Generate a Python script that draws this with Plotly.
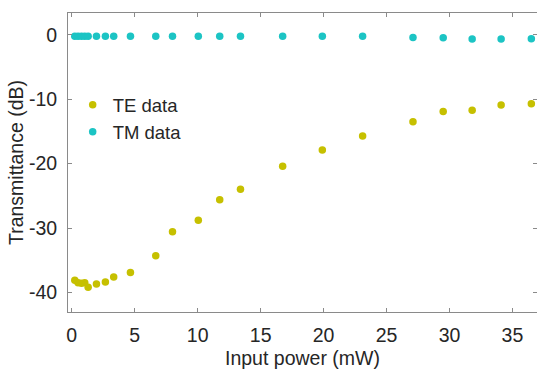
import plotly.graph_objects as go

power_mw = [0.24, 0.5, 0.77, 1.03, 1.3, 1.96, 2.67, 3.33, 4.66, 6.67, 8.0,
            10.05, 11.75, 13.4, 16.75, 19.9, 23.1, 27.1, 29.5, 31.8, 34.1, 36.5]
te_db = [-38.1, -38.5, -38.6, -38.5, -39.2, -38.7, -38.4, -37.6, -36.9, -34.3, -30.6,
         -28.8, -25.6, -24.0, -20.4, -17.9, -15.7, -13.5, -11.9, -11.7, -10.9, -10.7]
tm_db = [-0.2, -0.2, -0.2, -0.2, -0.2, -0.2, -0.2, -0.2, -0.2, -0.2, -0.2,
         -0.2, -0.2, -0.2, -0.2, -0.2, -0.2, -0.4, -0.45, -0.65, -0.65, -0.6]
x_ticks = [0, 5, 10, 15, 20, 25, 30, 35]
x_labels = ["0", "5", "10", "15", "20", "25", "30", "35"]
y_ticks = [0, -10, -20, -30, -40]
y_labels = ["0", "-10", "-20", "-30", "-40"]

FONT = "Liberation Sans, Arial, sans-serif"
TXT = "#262626"
TE_COLOR = "#c6c000"
TM_COLOR = "#1cc4c4"

fig = go.Figure()
fig.add_trace(go.Scatter(x=power_mw, y=te_db, mode="markers", name="TE data",
                         marker=dict(color=TE_COLOR, size=7.5)))
fig.add_trace(go.Scatter(x=power_mw, y=tm_db, mode="markers", name="TM data",
                         marker=dict(color=TM_COLOR, size=7.5)))

axis_common = dict(showline=True, linecolor="#8a8a8a", linewidth=1, mirror="ticks",
                   ticks="inside", ticklen=4, tickcolor="#8a8a8a", showgrid=False,
                   zeroline=False, automargin=False,
                   tickfont=dict(family=FONT, size=19.5, color=TXT))

fig.update_xaxes(range=[-0.3, 36.95], tickvals=x_ticks, ticktext=x_labels,
                 ticklabelstandoff=6,
                 title=dict(text="Input power (mW)", font=dict(family=FONT, size=19.5, color=TXT),
                            standoff=6),
                 **axis_common)
fig.update_yaxes(range=[-43.05, 3.4], tickvals=y_ticks, ticktext=y_labels,
                 ticklabelstandoff=6,
                 title=dict(text="Transmittance (dB)", font=dict(family=FONT, size=19.5, color=TXT),
                            standoff=0),
                 **axis_common)

fig.update_layout(
    width=537, height=369,
    margin=dict(l=68, r=0, t=13, b=57, pad=0),
    paper_bgcolor="white", plot_bgcolor="white",
    font=dict(family=FONT, size=19.5, color=TXT),
    legend=dict(x=0.01, y=0.755, xanchor="left", yanchor="top",
                bgcolor="rgba(0,0,0,0)", font=dict(family=FONT, size=18.5, color=TXT)),
)

fig.write_html("out.html", config={"displayModeBar": False},
               post_script="document.body.style.margin='0';document.body.style.overflow='hidden';")
